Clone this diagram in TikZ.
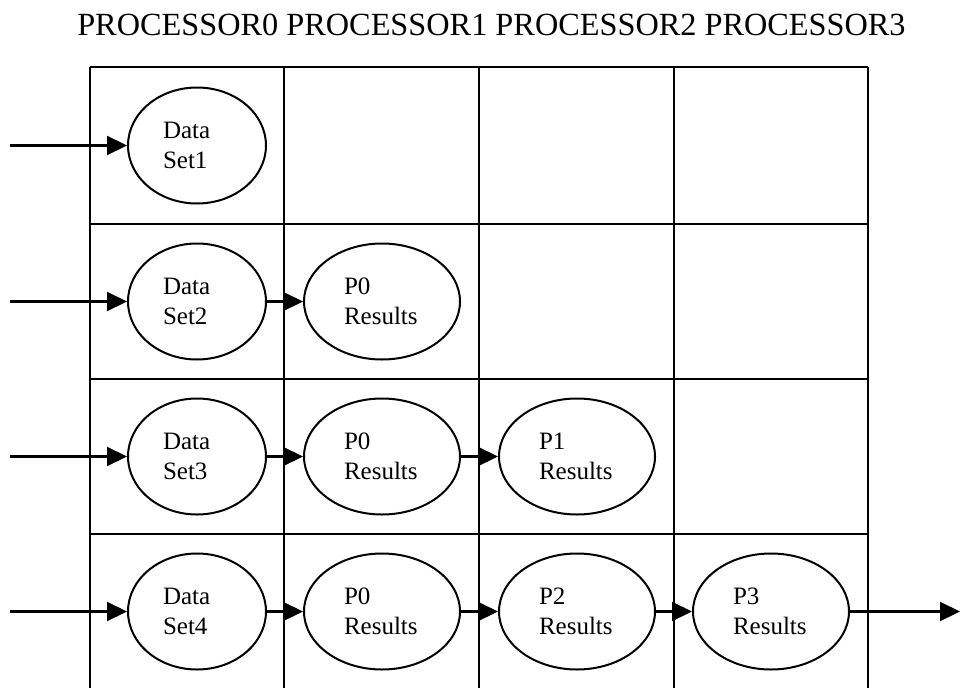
\documentclass[tikz,border=0pt]{standalone}
\usepackage{fontspec}
\setmainfont{Liberation Serif}
\usetikzlibrary{shapes.geometric,arrows.meta}
\begin{document}
\begin{tikzpicture}[x=1pt,y=-1pt,
  gridline/.style={line width=2.2pt},
  stage/.style={ellipse,draw,line width=2pt,inner sep=0pt,minimum height=116pt,
    align=left,font=\fontsize{25}{30}\selectfont},
  datastage/.style={stage,minimum width=138pt,text width=68pt},
  resstage/.style={stage,minimum width=156pt,text width=76pt},
  flow/.style={line width=2.2pt,-{Triangle[length=20pt,width=19pt]}}]
\useasboundingbox (0,0) rectangle (961,688);

% column headings
\node[anchor=base,inner sep=0pt,font=\fontsize{32.3}{38}\selectfont] (title) at (491.5,35)
  {PROCESSOR0 PROCESSOR1 PROCESSOR2 PROCESSOR3};

% table grid (open at the bottom)
\foreach \gx in {90,284,479,674,868}
  \draw[gridline] (\gx,67) -- (\gx,688);
\foreach \gy in {67,224,379,534}
  \draw[gridline] (90,\gy) -- (868,\gy);

% row 1
\node[datastage] (d1) at (197,145.5) {Data\\Set1};
% row 2
\node[datastage] (d2) at (197,301.5) {Data\\Set2};
\node[resstage] (r21) at (382,301.5) {P0\\Results};
% row 3
\node[datastage] (d3) at (197,456.5) {Data\\Set3};
\node[resstage] (r31) at (382,456.5) {P0\\Results};
\node[resstage] (r32) at (577,456.5) {P1\\Results};
% row 4
\node[datastage] (d4) at (197,611.5) {Data\\Set4};
\node[resstage] (r41) at (382,611.5) {P0\\Results};
\node[resstage] (r42) at (577,611.5) {P2\\Results};
\node[resstage] (r43) at (771,611.5) {P3\\Results};

% inputs and the final output end
\coordinate (in1) at (10,145.5);
\coordinate (in2) at (10,301.5);
\coordinate (in3) at (10,456.5);
\coordinate (in4) at (10,611.5);
\coordinate (out) at (960,611.5);

\draw[flow] (in1) -- (d1);
\draw[flow] (in2) -- (d2);
\draw[flow] (in3) -- (d3);
\draw[flow] (in4) -- (d4);

% pipeline hand-offs
\draw[flow] (d2) -- (r21);
\draw[flow] (d3) -- (r31);
\draw[flow] (r31) -- (r32);
\draw[flow] (d4) -- (r41);
\draw[flow] (r41) -- (r42);
\draw[flow] (r42) -- (r43);
\draw[flow] (r43) -- (out);
\end{tikzpicture}
\end{document}
